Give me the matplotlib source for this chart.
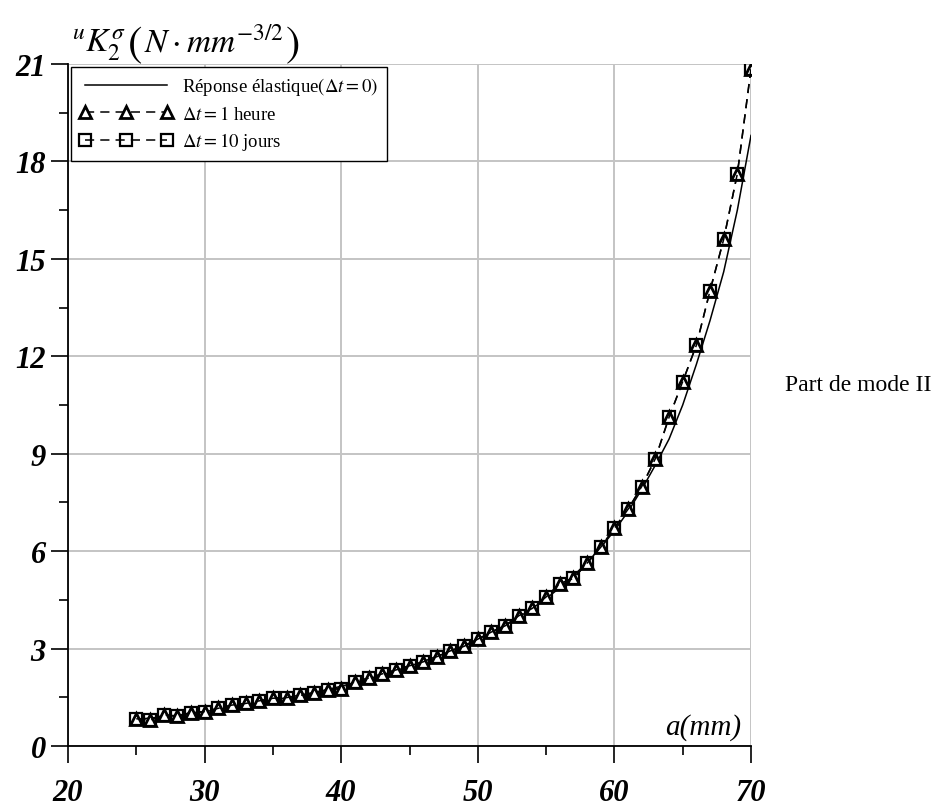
import matplotlib
matplotlib.use("Agg")
import matplotlib.pyplot as plt
from matplotlib.ticker import MultipleLocator

plt.rcParams['font.family'] = ['Liberation Serif', 'DejaVu Serif']
plt.rcParams['mathtext.fontset'] = 'stix'

# crack length a (mm)
a_mm = list(range(25, 71))

# elastic response (delta t = 0)
k_elastic = [0.82, 0.86, 0.90, 0.95, 1.00, 1.06, 1.12, 1.19, 1.26, 1.33,
             1.41, 1.49, 1.57, 1.65, 1.74, 1.84, 1.95, 2.07, 2.19, 2.32,
             2.46, 2.60, 2.76, 2.92, 3.10, 3.29, 3.50, 3.72, 3.97, 4.24,
             4.54, 4.87, 5.24, 5.65, 6.11, 6.63, 7.22, 7.90, 8.65, 9.45,
             10.50, 11.75, 13.10, 14.60, 16.50, 18.80]

# delta t = 1 heure
k_1h = [0.84, 0.79, 0.96, 0.92, 1.03, 1.06, 1.16, 1.26, 1.31, 1.39,
        1.47, 1.49, 1.56, 1.62, 1.73, 1.77, 1.98, 2.09, 2.22, 2.34,
        2.47, 2.59, 2.75, 2.93, 3.07, 3.29, 3.51, 3.70, 4.01, 4.24,
        4.59, 5.00, 5.16, 5.63, 6.12, 6.71, 7.29, 7.99, 8.85, 10.12,
        11.22, 12.34, 14.02, 15.60, 17.62, 20.85]

# delta t = 10 jours
k_10j = [0.84, 0.79, 0.96, 0.92, 1.03, 1.06, 1.16, 1.26, 1.31, 1.39,
         1.47, 1.49, 1.56, 1.62, 1.73, 1.77, 1.98, 2.09, 2.22, 2.34,
         2.47, 2.59, 2.75, 2.93, 3.07, 3.29, 3.51, 3.70, 4.01, 4.24,
         4.59, 5.00, 5.16, 5.63, 6.12, 6.71, 7.29, 7.99, 8.85, 10.12,
         11.22, 12.34, 14.02, 15.60, 17.62, 20.85]

x_ticks = [20, 30, 40, 50, 60, 70]
y_ticks = [0, 3, 6, 9, 12, 15, 18, 21]

W, H = 941, 812
fig = plt.figure(figsize=(W / 100, H / 100), dpi=100)
ax = fig.add_axes([68 / W, 1 - 747 / H, (751 - 68) / W, (747 - 65) / H])

ax.plot(a_mm, k_elastic, color='black', lw=1.1,
        label=r"Réponse élastique$\left(\Delta t = 0\right)$", zorder=3)
ax.plot(a_mm, k_1h, color='black', lw=1.1, ls=(0, (6, 4)), marker='^', ms=9,
        mfc='white', mec='black', mew=2.0, label=r"$\Delta t = 1$ heure", zorder=4)
ax.plot(a_mm, k_10j, color='black', lw=1.1, ls=(0, (6, 4)), marker='s', ms=8,
        mfc='none', mec='black', mew=1.6, label=r"$\Delta t = 10$ jours", zorder=5)

ax.set_xlim(20, 70)
ax.set_ylim(0, 21)
ax.set_xticks(x_ticks)
ax.set_yticks(y_ticks)
ax.xaxis.set_minor_locator(MultipleLocator(5))
ax.yaxis.set_minor_locator(MultipleLocator(1.5))
ax.grid(True, which='major', color='#c4c4c4', lw=1.4, zorder=0)
ax.set_axisbelow(True)

for s in ('top', 'right'):
    ax.spines[s].set_visible(False)
for s in ('left', 'bottom'):
    ax.spines[s].set_linewidth(1.3)
    ax.spines[s].set_zorder(6)

ax.tick_params(which='major', direction='out', length=12, width=1.2, pad=4)
ax.tick_params(which='minor', direction='out', length=6.5, width=1.2)
ax.tick_params(axis='x', which='major', pad=11)
for lab in ax.get_xticklabels() + ax.get_yticklabels():
    lab.set_fontsize(22)
    lab.set_fontweight('bold')
    lab.set_fontstyle('italic')

leg = ax.legend(loc='upper left', numpoints=3, fontsize=13.5, frameon=True,
                fancybox=False, edgecolor='black', framealpha=1,
                handlelength=5.0, handletextpad=0.5, borderpad=0.45,
                labelspacing=0.4, borderaxespad=0.15)
leg.get_frame().set_linewidth(1.0)

ax.text(0.985, 12 / 682, "a(mm)", transform=ax.transAxes, ha='right', va='baseline',
        fontsize=21, fontstyle='italic')

# y-axis quantity written above the axis, with tall parentheses
renderer = fig.canvas.get_renderer()
base_y = 1 - 52 / H
x_px = 72
pieces = [(r"$^{u}K_2^{\sigma}$", 24, 0),
          ("(", 31, 4),
          (r"$N\cdot mm^{-3/2}$", 24, 0),
          (")", 31, 4)]
for txt, fs, drop in pieces:
    t = fig.text(x_px / W, base_y - drop / H, txt, fontsize=fs, ha='left', va='baseline',
                 family='STIXGeneral' if txt in "()" else None)
    bb = t.get_window_extent(renderer)
    x_px += bb.width + 2

fig.text(785 / W, 1 - 386 / H, "Part de mode II", fontsize=17, ha='left', va='center')

fig.savefig("out.png", dpi=100)
